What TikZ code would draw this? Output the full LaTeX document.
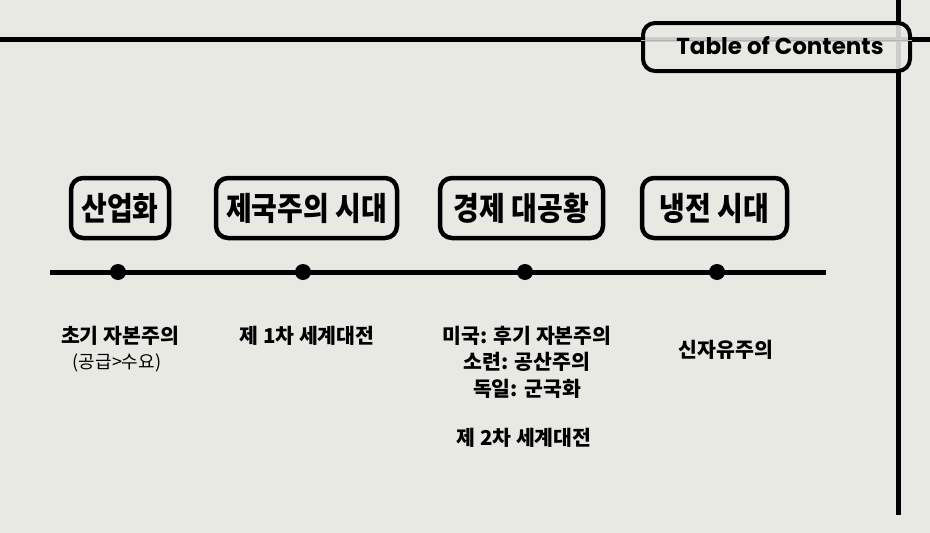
\documentclass[tikz,border=0pt]{standalone}
\usepackage{fontspec}
\newfontfamily\popfont{Poppins}
\newfontfamily\krfont{Noto Sans CJK KR}
\newfontfamily\krblack{Noto Sans CJK KR Black}
\definecolor{bgc}{RGB}{233,233,228}
\tikzset{
  heavy/.style={line width=5pt, draw=black},
  era/.style={draw=black, line width=4.5pt, rounded corners=12pt, fill=bgc,
    minimum height=60pt, inner xsep=6pt, font=\krblack\fontsize{28}{32}\selectfont},
  dotmark/.style={circle, fill=black, minimum size=16pt, inner sep=0pt},
  sub/.style={font=\krblack\fontsize{20.5}{26.5}\selectfont, align=center, inner sep=0pt},
  subsmall/.style={font=\krfont\fontsize{18}{20}\selectfont, inner sep=0pt},
  toc/.style={draw=black, line width=4pt, rounded corners=12pt, fill=bgc, fill opacity=0.88, text opacity=1,
    minimum width=267pt, minimum height=48pt}
}
\begin{document}
\begin{tikzpicture}[x=1pt,y=-1pt]
\fill[bgc] (0,0) rectangle (930,533);
\useasboundingbox (0,0) rectangle (930,533);
% frame lines
\coordinate (tl) at (0,39);
\coordinate (tr) at (930,39);
\coordinate (vt) at (898,0);
\coordinate (vb) at (898,515);
\draw[heavy] (tl) -- (tr);
\draw[heavy] (vt) -- (vb);
\node[toc] (toc) at (776.5,47) {};
\draw[gray!60, line width=0.6pt] (toc.west |- 0,40) -- (toc.east |- 0,40);
\node[font=\popfont\bfseries\fontsize{23}{26}\selectfont] (toctext) at (780,46) {Table of Contents};
% eras
\node[era, minimum width=98pt] (e1) at (120,208) {\scalebox{1}[1.15]{산업화}};
\node[era, minimum width=181pt] (e2) at (306.5,208) {\scalebox{1}[1.15]{제국주의 시대}};
\node[era, minimum width=163pt] (e3) at (521.5,208) {\scalebox{1}[1.15]{경제 대공황}};
\node[era, minimum width=145pt] (e4) at (714.5,208) {\scalebox{1}[1.15]{냉전 시대}};
% timeline
\coordinate (ls) at (50,272);
\coordinate (le) at (826,272);
\draw[heavy] (ls) -- (le);
\node[dotmark] (d1) at (118,272) {};
\node[dotmark] (d2) at (303,272) {};
\node[dotmark] (d3) at (525,272) {};
\node[dotmark] (d4) at (717,272) {};
% descriptions
\node[sub] (s1) at (120,336) {초기 자본주의};
\node[subsmall] (s1b) at (117,363) {(공급>수요)};
\node[sub] (s2) at (307,336) {제 1차 세계대전};
\node[sub] (s3) at (527,362) {미국: 후기 자본주의\\소련: 공산주의\\독일: 군국화};
\node[sub] (s3b) at (524,438) {제 2차 세계대전};
\node[sub] (s4) at (726,350) {신자유주의};
\end{tikzpicture}
\end{document}
